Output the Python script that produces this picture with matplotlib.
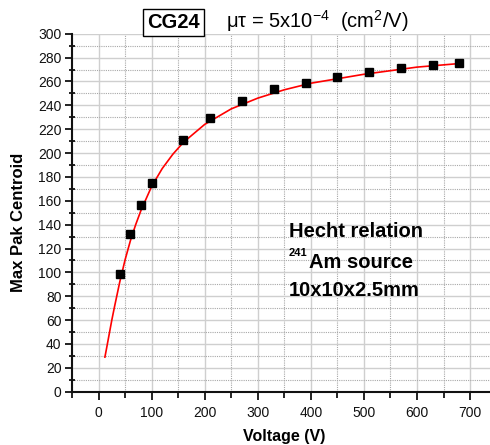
import matplotlib
matplotlib.use("Agg")
import matplotlib.pyplot as plt
from matplotlib.ticker import MultipleLocator

# ---- data ----
voltage = [40, 60, 80, 100, 160, 210, 270, 330, 390, 450, 510, 570, 630, 680]
centroid = [99, 132, 156.5, 175, 211, 229.5, 244, 253.5, 259, 264, 268, 271, 273.5, 275.5]

fit_voltage = [12, 15, 20, 25, 30, 40, 50, 60, 70, 80, 100, 120, 140, 160, 200,
               250, 300, 350, 400, 500, 600, 680]
fit_centroid = [29, 36, 48, 60, 71, 92, 110.5, 126.5, 140, 152, 172, 187, 199, 209,
                224, 237, 246, 253, 258.5, 266, 272, 275]

x_ticks = [0, 100, 200, 300, 400, 500, 600, 700]
y_ticks = list(range(0, 301, 20))

title_box = "CG24"
title_text = r"μτ = 5x10$^{-4}$  (cm$^{2}$/V)"
note_lines = ["Hecht relation", "Am source", "10x10x2.5mm"]
note_sup = "241"
x_label = "Voltage (V)"
y_label = "Max Pak Centroid"

plt.rcParams["font.family"] = ["Liberation Sans", "DejaVu Sans"]
plt.rcParams["mathtext.fontset"] = "custom"
plt.rcParams["mathtext.rm"] = "Liberation Sans"
plt.rcParams["mathtext.it"] = "Liberation Sans:italic"
plt.rcParams["mathtext.bf"] = "Liberation Sans:bold"

W, H = 490, 445
fig = plt.figure(figsize=(W / 100, H / 100), dpi=100)

# axes in pixel geometry
left_px, right_px, top_px, bottom_px = 72, 496.6, 33.7, 391.7
ax = fig.add_axes([left_px / W, 1 - bottom_px / H,
                   (right_px - left_px) / W, (bottom_px - top_px) / H])

ax.set_xlim(-50, 750)
ax.set_ylim(0, 300)

ax.xaxis.set_major_locator(MultipleLocator(100))
ax.xaxis.set_minor_locator(MultipleLocator(50))
ax.yaxis.set_major_locator(MultipleLocator(20))
ax.yaxis.set_minor_locator(MultipleLocator(10))
ax.set_xticks(x_ticks)
ax.set_yticks(y_ticks)

ax.grid(which="major", color="#cfcfcf", linewidth=1.0, linestyle="-")
ax.grid(which="minor", color="#a8a8a8", linewidth=0.8, linestyle=(0, (1, 1)))
ax.set_axisbelow(True)

for s in ["top", "right"]:
    ax.spines[s].set_visible(False)
for s in ["left", "bottom"]:
    ax.spines[s].set_linewidth(1.5)
    ax.spines[s].set_color("#111111")

ax.tick_params(axis="both", which="major", direction="out", length=5, width=1.3,
               labelsize=10, colors="#111111", pad=2.5)
ax.tick_params(axis="x", which="major", length=6, pad=4)
ax.tick_params(axis="x", which="minor", direction="out", length=4, width=1.2)
ax.tick_params(axis="y", which="minor", direction="inout", length=5, width=1.2)

ax.plot(fit_voltage, fit_centroid, color="#ff0000", linewidth=1.2, zorder=3)
ax.plot(voltage, centroid, linestyle="none", marker="s", markersize=6,
        color="black", zorder=4)

ax.set_xlabel(x_label, fontsize=11.5, fontweight="bold", labelpad=7)
ax.set_ylabel(y_label, fontsize=12, fontweight="bold")
ax.yaxis.set_label_coords(-0.108, 0.474)

def fx(px):
    return px / W

def fy(py):
    return 1 - py / H

fig.text(fx(147), fy(28), title_box, fontsize=14.5, fontweight="bold",
         ha="left", va="baseline",
         bbox=dict(boxstyle="square,pad=0.2", facecolor="white",
                   edgecolor="black", linewidth=1.0))
fig.text(fx(226), fy(28), title_text, fontsize=14.5, ha="left", va="baseline")

fig.text(fx(289), fy(237), note_lines[0], fontsize=14.5, fontweight="bold",
         ha="left", va="baseline")
fig.text(fx(289), fy(256), note_sup, fontsize=8, fontweight="bold",
         ha="left", va="baseline")
fig.text(fx(309), fy(268), note_lines[1], fontsize=14.5, fontweight="bold",
         ha="left", va="baseline")
fig.text(fx(289), fy(296), note_lines[2], fontsize=14.5, fontweight="bold",
         ha="left", va="baseline")

fig.savefig("out.png", dpi=100)
